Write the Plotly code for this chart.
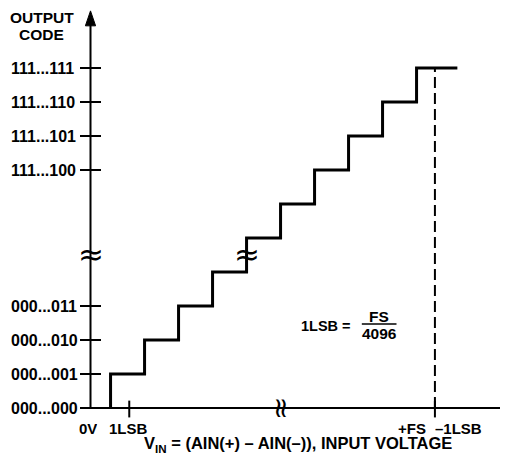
import plotly.graph_objects as go

# ---- data (code units on y, LSB-step units on x) ----
code_levels_low = [0, 1, 2, 3]
code_labels_low = ["000...000", "000...001", "000...010", "000...011"]
code_levels_high = [7, 8, 9, 10]
code_labels_high = ["111...100", "111...101", "111...110", "111...111"]
step_edges = [0.59, 1.59, 2.59, 3.59, 4.59, 5.59, 6.59, 7.59, 8.59, 9.59, 10.79]
step_codes = [0, 1, 2, 3, 4, 5, 6, 7, 8, 9, 10]
x_tick_pos = [1.14, 10.13]
fs_line_x = 10.13
fs_top_code = 10
y_break = 4.53
x_break = 5.62
stair_break_x = 4.59

FONT = "Liberation Sans, Arial, sans-serif"
SYM_FONT = "DejaVu Sans, sans-serif"
BLACK = "#000000"

fig = go.Figure()

# staircase
fig.add_trace(go.Scatter(x=step_edges, y=step_codes, mode="lines",
                         line=dict(color=BLACK, width=3, shape="vh"),
                         hoverinfo="skip", showlegend=False))
# dashed +FS-1LSB line
fig.add_trace(go.Scatter(x=[fs_line_x, fs_line_x], y=[0, fs_top_code], mode="lines",
                         line=dict(color=BLACK, width=2, dash="11px,5px"),
                         hoverinfo="skip", showlegend=False))

# axes lines
fig.add_shape(type="line", x0=0, x1=0, y0=0, y1=11.3, xref="x", yref="y",
              line=dict(color=BLACK, width=2))
fig.add_shape(type="line", x0=-0.15, x1=12.4, y0=0, y1=0, xref="x", yref="y",
              line=dict(color=BLACK, width=2))
# arrow head
fig.add_shape(type="path", path="M -0.15,11.24 L 0,11.68 L 0.15,11.24 Z",
              xref="x", yref="y", fillcolor=BLACK, line=dict(color=BLACK, width=1))

# y ticks
yt = code_levels_low + code_levels_high
fig.add_trace(go.Scatter(x=[0] * len(yt), y=yt, mode="markers",
                         marker=dict(symbol="line-ew", size=15,
                                     line=dict(color=BLACK, width=2)),
                         hoverinfo="skip", showlegend=False))
# x ticks
fig.add_trace(go.Scatter(x=x_tick_pos, y=[-0.03] * len(x_tick_pos), mode="markers",
                         marker=dict(symbol="line-ns", size=12,
                                     line=dict(color=BLACK, width=2)),
                         hoverinfo="skip", showlegend=False))

# fraction bar
fig.add_shape(type="line", x0=7.98, x1=9.0, y0=2.47, y1=2.47, xref="x", yref="y",
              line=dict(color=BLACK, width=1.5))

ann = []
def txt(x, y, s, size=15.5, xanchor="center", angle=0, weight="bold", family=FONT, height=None):
    d = dict(x=x, y=y, xref="x", yref="y", text=s, showarrow=False,
             xanchor=xanchor, yanchor="middle", textangle=angle,
             font=dict(family=family, size=size, color=BLACK, weight=weight))
    if height:
        d["height"] = height
    ann.append(d)

for lv, lb in zip(code_levels_low + code_levels_high, code_labels_low + code_labels_high):
    txt(-2.4, lv, lb, size=16, xanchor="left")

txt(-1.441, 11.48, "OUTPUT", size=15.5)
txt(-1.441, 10.99, "CODE", size=15.5)

txt(-0.074, -0.61, "0V", size=15, height=15)
txt(1.13, -0.61, "1LSB", size=15, height=15)
txt(9.93, -0.61, "+FS", size=15, xanchor="right", height=15)
txt(10.07, -0.61, "\u20131LSB", size=15, xanchor="left", height=15)
txt(6.10, -1.07, "V<sub>IN</sub> = (AIN(+) \u2013 AIN(\u2013)), INPUT VOLTAGE", size=16.5, height=17)

txt(7.71, 2.42, "1LSB =", size=14.5, xanchor="right")
txt(8.49, 2.70, "FS", size=15.5)
txt(8.49, 2.20, "4096", size=15.5)

# break marks
txt(0, y_break, "\u2248", size=31, weight="normal", family=SYM_FONT)
txt(stair_break_x, y_break, "\u2248", size=31, weight="normal", family=SYM_FONT)
txt(x_break, 0, "\u2248", size=28, angle=90, weight="normal", family=SYM_FONT)

# the page body has an 8px margin: shift the view so the picture lands in place
fig.update_layout(
    width=500, height=446, autosize=False,
    margin=dict(l=0, r=0, t=0, b=0),
    paper_bgcolor="white", plot_bgcolor="white",
    xaxis=dict(range=[(8 - 90.5) / 34, 417.5 / 34], visible=False, fixedrange=True),
    yaxis=dict(range=[(408 - 454) / 34, (408 - 8) / 34], visible=False, fixedrange=True),
    annotations=ann, showlegend=False,
)

fig.write_html("out.html")
